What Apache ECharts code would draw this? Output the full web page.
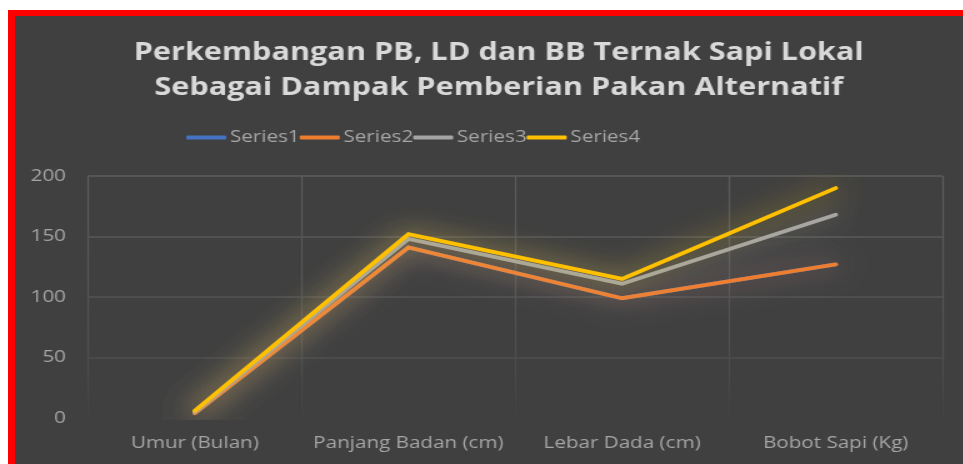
<!DOCTYPE html>
<html><head><meta charset="utf-8">
<script src="https://cdn.jsdelivr.net/npm/echarts@6/dist/echarts.min.js"></script>
<style>
html,body{margin:0;padding:0;background:#fff;width:963px;height:464px;overflow:hidden;position:relative;}
#frame{position:absolute;left:8px;top:10px;width:955px;height:454px;background:#404040;border-left:7px solid #ff0000;border-top:6px solid #ff0000;box-sizing:border-box;}
#c{position:absolute;left:0;top:0;width:770.4px;height:464px;transform:scaleX(1.25);transform-origin:0 0;}
</style>
</head><body><div id="frame"></div><div id="c"></div>
<script>
const titleLines = ['Perkembangan PB, LD dan BB Ternak Sapi Lokal', 'Sebagai Dampak Pemberian Pakan Alternatif'];
const categories = ['Umur (Bulan)', 'Panjang Badan (cm)', 'Lebar Dada (cm)', 'Bobot Sapi (Kg)'];
const seriesNames = ['Series1', 'Series2', 'Series3', 'Series4'];
const series1 = [4, 141, 99, 127];
const series2 = [4, 141, 99, 127];
const series3 = [5, 148, 111, 168];
const series4 = [6, 152, 115, 190];
const yTicks = [0, 50, 100, 150, 200];
const colors = ['#4472c4', '#ed7d31', '#a5a5a5', '#ffc000'];
const glow = ['rgba(68,114,196,0.6)', 'rgba(237,125,49,0.6)', 'rgba(210,210,210,0.5)', 'rgba(255,205,0,0.7)'];

const chart = echarts.init(document.getElementById('c'), null, {renderer: 'canvas'});
const gridFade = {type: 'linear', x: 0, y: 176, x2: 0, y2: 420, global: true,
  colorStops: [{offset: 0, color: '#5c5c5c'}, {offset: 0.7, color: '#505050'}, {offset: 1, color: '#414141'}]};
const data = [series1, series2, series3, series4];
chart.setOption({
  animation: false,
  backgroundColor: 'transparent',
  title: {
    text: titleLines.join('\n'),
    left: 394, top: 31, textAlign: 'center',
    textStyle: {color: '#d9d9d9', fontFamily: 'Open Sans', fontWeight: 'bold', fontSize: 24.5, lineHeight: 35}
  },
  legend: {
    data: seriesNames, top: 124, left: 144, itemWidth: 32, itemHeight: 4, itemGap: 0,
    icon: 'roundRect',
    textStyle: {color: '#a6a6a6', fontFamily: 'Open Sans', fontSize: 16.5, padding: [0, -3, 0, -2]}
  },
  grid: {left: 70.4, right: 16, top: 176, bottom: 46},
  xAxis: {
    type: 'category', data: categories, boundaryGap: true,
    axisLine: {show: false}, axisTick: {show: false},
    axisLabel: {color: '#a6a6a6', fontFamily: 'Open Sans', fontSize: 16.5, margin: 17, interval: 0},
    splitLine: {show: true, interval: 0, lineStyle: {color: gridFade, width: 1.3}}
  },
  yAxis: {
    type: 'value', min: yTicks[0], max: yTicks[yTicks.length - 1], interval: 50,
    axisLine: {show: false}, axisTick: {show: false},
    axisLabel: {color: '#a6a6a6', fontFamily: 'Open Sans', fontSize: 16.5, margin: 17.6},
    splitLine: {lineStyle: {color: gridFade, width: 1.6}}
  },
  series: data.map((d, i) => ({
    name: seriesNames[i], type: 'line', data: d, symbol: 'none',
    color: colors[i],
    lineStyle: {width: 3.8, color: colors[i], shadowBlur: 24, shadowColor: glow[i], cap: 'round', join: 'miter'}
  }))
});
</script></body></html>
